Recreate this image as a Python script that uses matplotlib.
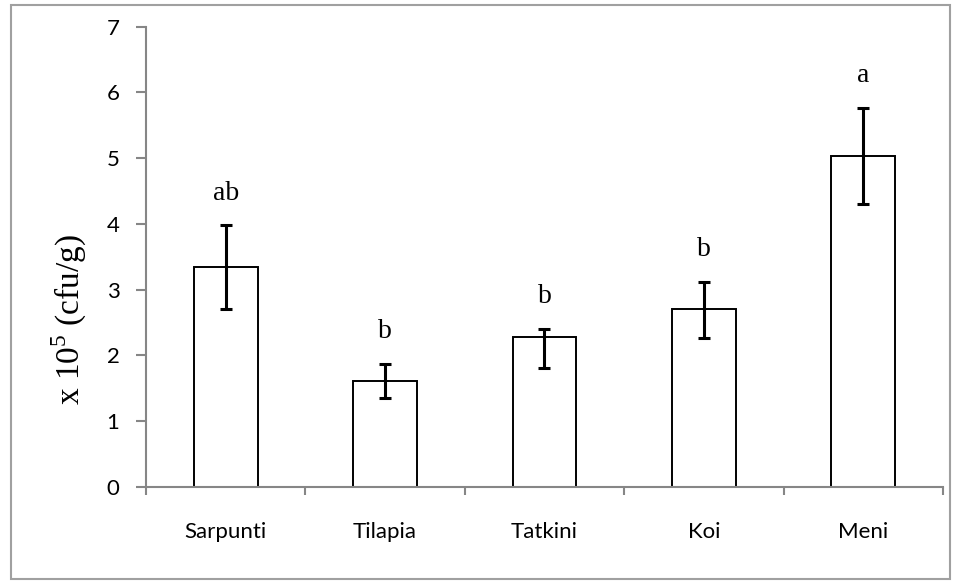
import matplotlib
matplotlib.use("Agg")
import numpy as np
import matplotlib.pyplot as plt
from matplotlib.patches import Rectangle

# data
fish = ["Sarpunti", "Tilapia", "Tatkini", "Koi", "Meni"]
counts = [3.34, 1.61, 2.28, 2.70, 5.04]
err_low = [0.63, 0.26, 0.47, 0.43, 0.74]
err_high = [0.64, 0.26, 0.13, 0.42, 0.73]
letters = ["ab", "b", "b", "b", "a"]

plt.rcParams["mathtext.fontset"] = "custom"
plt.rcParams["mathtext.rm"] = "Liberation Serif"

fig = plt.figure(figsize=(9.59, 5.81), dpi=100)
ax = fig.add_axes([0.1522, 0.1618, 0.8311, 0.7922])

x = np.arange(len(fish))
ax.bar(x, counts, width=0.4, color="white", edgecolor="black", linewidth=1.4, zorder=2)
ax.errorbar(x, counts, yerr=[err_low, err_high], fmt="none", ecolor="black",
            elinewidth=2.2, capsize=4.5, capthick=2.2, zorder=3)

for xi, c, e, lab in zip(x, counts, err_high, letters):
    ax.text(xi, c + e + 0.3, lab, ha="center", va="bottom",
            family="Liberation Serif", fontsize=20)

ax.set_xlim(-0.5, 4.5)
ax.set_ylim(0, 7)
ax.set_yticks(range(8))
ax.set_xticks(x)
ax.set_xticklabels(fish, family="Lato", fontsize=16)
ax.set_xticks(np.arange(-0.5, 5, 1), minor=True)
ax.tick_params(axis="x", which="major", length=0, pad=25)
ax.tick_params(axis="x", which="minor", length=6, width=1.5, color="#868686")
ax.tick_params(axis="y", length=7, width=1.5, color="#868686", pad=12, labelsize=16)
for lbl in ax.get_yticklabels():
    lbl.set_family("Lato")

for s in ["top", "right"]:
    ax.spines[s].set_visible(False)
for s in ["left", "bottom"]:
    ax.spines[s].set_color("#868686")
    ax.spines[s].set_linewidth(1.5)

fig.text(0.072, 0.45, "x 10$^5$ (cfu/g)", rotation=90, ha="center", va="center",
         family="Liberation Serif", fontsize=24)

# outer chart border
fig.patches.append(Rectangle((0.011, 0.003), 0.98, 0.988, transform=fig.transFigure,
                             fill=False, edgecolor="#a0a0a0", linewidth=1.5))

fig.savefig("out.png", dpi=100)
